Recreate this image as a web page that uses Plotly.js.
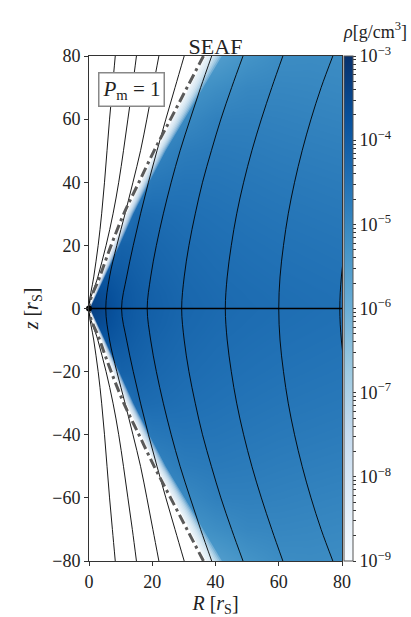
<!DOCTYPE html>
<html>
<head>
<meta charset="utf-8">
<script src="https://cdn.plot.ly/plotly-3.0.1.min.js"></script>
<style>
  html, body { margin: 0; padding: 0; background: #fff; }
  #chart { width: 411px; height: 617px; }
</style>
</head>
<body>
<div id="chart"></div>
<script>
// density grid, log10(rho) in g/cm^3, upper half (z >= 0), mirrored below
const rhoR = [0, 3, 6, 10, 15, 20, 30, 40, 50, 60, 70, 80];
const rhoZ = [0, 5, 10, 20, 30, 40, 50, 60, 70, 80];
const rhoLog = [
    [-3.30, -3.45, -3.65, -3.85, -4.00, -4.10, -4.25, -4.33, -4.38, -4.42, -4.45, -4.48],
    [-3.60, -3.60, -3.72, -3.88, -4.02, -4.12, -4.27, -4.35, -4.40, -4.44, -4.47, -4.50],
    [-4.00, -3.90, -3.85, -3.95, -4.07, -4.17, -4.30, -4.38, -4.43, -4.47, -4.50, -4.53],
    [-4.60, -4.50, -4.35, -4.15, -4.18, -4.26, -4.37, -4.44, -4.49, -4.53, -4.56, -4.59],
    [-5.00, -4.90, -4.80, -4.60, -4.35, -4.38, -4.46, -4.51, -4.56, -4.60, -4.63, -4.66],
    [-5.30, -5.20, -5.10, -5.00, -4.85, -4.65, -4.58, -4.60, -4.64, -4.68, -4.71, -4.74],
    [-5.60, -5.50, -5.40, -5.30, -5.10, -4.95, -4.75, -4.70, -4.73, -4.77, -4.80, -4.83],
    [-5.90, -5.80, -5.70, -5.60, -5.40, -5.25, -5.05, -4.85, -4.84, -4.87, -4.90, -4.93],
    [-6.10, -6.00, -5.90, -5.80, -5.70, -5.50, -5.35, -5.15, -5.00, -4.98, -5.00, -5.03],
    [-6.30, -6.20, -6.10, -6.00, -5.90, -5.80, -5.65, -5.55, -5.30, -5.12, -5.10, -5.12]
];

// field lines: R at each z (upper half, mirrored below)
const fieldZ = [0, 10, 20, 30, 40, 50, 60, 70, 80];
const fieldR = [
    [0, 1.5, 2.9, 4.0, 4.9, 5.7, 6.5, 7.4, 8.3],
    [0, 2.8, 5.4, 7.6, 9.4, 10.9, 12.3, 13.7, 15.0],
    [5.3, 6.5, 8.8, 11.4, 13.9, 16.3, 18.3, 20.2, 22.1],
    [10.3, 11.9, 14.0, 16.3, 18.8, 21.5, 24.3, 27.2, 30.1],
    [18.4, 19.5, 21.3, 23.5, 26.0, 28.8, 32.0, 35.3, 38.8],
    [29.3, 30.1, 31.6, 33.6, 35.9, 38.7, 41.7, 45.1, 48.7],
    [43.1, 43.7, 45.0, 46.7, 48.9, 51.5, 54.5, 57.8, 61.3],
    [60.0, 60.4, 61.5, 63.0, 65.0, 67.4, 70.2, 73.4, 77.1],
    [79.3, 79.8, 81.0, 82.8, 85.0, 87.6, 90.6, 94.0, 97.8]
];

// dash-dot boundary
const dashR = [0, 3.4, 7.0, 11.0, 15.8, 20.6, 25.8, 31.0, 36.2];

// edge of the density cone: fully white up to whiteR, fading until fadeR
const whiteR = [0, 3.9, 7.7, 11.8, 16.4, 21.2, 26.6, 31.8, 37.0];
const fadeR = [0.3, 5.0, 9.6, 14.0, 19.0, 24.2, 30.2, 36.0, 42.0];

const cbTicks = [-9, -8, -7, -6, -5, -4, -3];
const cbLabels = ['10<sup>−9</sup>', '10<sup>−8</sup>', '10<sup>−7</sup>', '10<sup>−6</sup>',
                  '10<sup>−5</sup>', '10<sup>−4</sup>', '10<sup>−3</sup>'];

const blues = [
    [0, '#f7fbff'], [0.125, '#deebf7'], [0.25, '#c6dbef'], [0.375, '#9ecae1'],
    [0.5, '#6baed6'], [0.625, '#4292c6'], [0.75, '#2171b5'], [0.875, '#08519c'], [1, '#08306b']
];

const FONT = "'Liberation Serif', 'DejaVu Serif', serif";

// mirror an upper-half profile to the full -80..80 span
function mirror(vals) {
    return vals.slice(1).reverse().concat(vals);
}
const zFull = fieldZ.slice(1).reverse().map(v => -v).concat(fieldZ);

// full heatmap grid
const gridZ = rhoZ.slice(1).reverse().map(v => -v).concat(rhoZ);
const gridVals = rhoLog.slice(1).reverse().concat(rhoLog);

// colorbar ticks incl. minor ones
const cbVals = [];
const cbText = [];
cbTicks.forEach((t, i) => {
    cbVals.push(t);
    cbText.push(cbLabels[i]);
    if (t < -3) {
        for (let k = 2; k <= 9; k++) {
            cbVals.push(t + Math.log10(k));
            cbText.push(' ');
        }
    }
});

const traces = [];

traces.push({
    type: 'heatmap',
    x: rhoR,
    y: gridZ,
    z: gridVals,
    zmin: -9,
    zmax: -3,
    zsmooth: 'best',
    colorscale: blues,
    hoverinfo: 'skip',
    colorbar: {
        x: 1.008,
        xanchor: 'left',
        xpad: 0,
        y: 0.5,
        yanchor: 'middle',
        ypad: 0,
        len: 1,
        thickness: 9,
        outlinewidth: 1,
        outlinecolor: '#555',
        tickmode: 'array',
        tickvals: cbVals,
        ticktext: cbText,
        ticks: 'outside',
        ticklen: 3,
        tickcolor: '#333',
        tickfont: { family: FONT, size: 18, color: '#222' }
    }
});

// polygon left of a boundary curve
function edgePolygon(bnd, fill) {
    const r = mirror(bnd);
    const xs = [-2, r[r.length - 1]].concat(r.slice().reverse()).concat([r[0], -2]);
    const ys = [85, 85].concat(zFull.slice().reverse()).concat([-85, -85]);
    return {
        type: 'scatter', mode: 'lines', x: xs, y: ys,
        fill: 'toself', fillcolor: fill, line: { width: 0 }, hoverinfo: 'skip'
    };
}

// soft fade into white
const nFade = 8;
for (let k = nFade; k >= 1; k--) {
    const f = k / nFade;
    const bnd = whiteR.map((w, i) => w + (fadeR[i] - w) * f);
    traces.push(edgePolygon(bnd, 'rgba(255,255,255,0.24)'));
}
traces.push(edgePolygon(whiteR, '#ffffff'));

// field lines
fieldR.forEach(r => {
    traces.push({
        type: 'scatter', mode: 'lines',
        x: mirror(r), y: zFull,
        line: { color: '#000', width: 0.9, shape: 'spline', smoothing: 1 },
        hoverinfo: 'skip'
    });
});

// dash-dot line
traces.push({
    type: 'scatter', mode: 'lines',
    x: mirror(dashR), y: zFull,
    line: { color: '#5a5a5a', width: 3, dash: '10px,4px,3px,4px', shape: 'spline', smoothing: 1 },
    hoverinfo: 'skip'
});

// midplane
traces.push({
    type: 'scatter', mode: 'lines',
    x: [0, 80], y: [0, 0],
    line: { color: '#000', width: 1.6 },
    hoverinfo: 'skip'
});
traces.push({
    type: 'scatter', mode: 'markers',
    x: [0], y: [0],
    marker: { color: '#000', size: 6 },
    cliponaxis: false,
    hoverinfo: 'skip'
});

const axisStyle = {
    showgrid: false,
    zeroline: false,
    showline: true,
    linecolor: '#333',
    linewidth: 1,
    mirror: true,
    ticks: 'outside',
    ticklen: 4,
    tickcolor: '#333',
    tickfont: { family: FONT, size: 18, color: '#222' }
};

const layout = {
    width: 411,
    height: 617,
    margin: { l: 89, r: 69, t: 56, b: 56 },
    paper_bgcolor: '#fff',
    plot_bgcolor: '#fff',
    showlegend: false,
    font: { family: FONT, color: '#222' },
    title: {
        text: 'SEAF',
        font: { family: FONT, size: 22, color: '#222' },
        x: 0.5, xref: 'paper', xanchor: 'center',
        y: 1, yref: 'paper', yanchor: 'bottom',
        pad: { b: 2 }
    },
    xaxis: Object.assign({}, axisStyle, {
        range: [0, 80],
        tickvals: [0, 20, 40, 60, 80],
        title: { text: '<i>R</i> [<i>r</i><sub>S</sub>]', font: { family: FONT, size: 20, color: '#222' }, standoff: 6 }
    }),
    yaxis: Object.assign({}, axisStyle, {
        range: [-80, 80],
        tickvals: [-80, -60, -40, -20, 0, 20, 40, 60, 80],
        title: { text: '<i>z</i> [<i>r</i><sub>S</sub>]', font: { family: FONT, size: 20, color: '#222' }, standoff: 8 }
    }),
    annotations: [
        {
            text: '<i>P</i><sub>m</sub> = 1',
            x: 13.4, y: 69.4, xref: 'x', yref: 'y',
            showarrow: false,
            font: { family: FONT, size: 21, color: '#222' },
            bgcolor: '#fff',
            bordercolor: '#888',
            borderwidth: 1.5,
            borderpad: 3
        },
        {
            text: '<i>ρ</i>[g/cm<sup>3</sup>]',
            x: 1.13, y: 1.05, xref: 'paper', yref: 'paper',
            xanchor: 'center', yanchor: 'middle',
            showarrow: false,
            font: { family: FONT, size: 18, color: '#222' }
        }
    ]
};

Plotly.newPlot('chart', traces, layout, { staticPlot: true, displayModeBar: false });
</script>
</body>
</html>
